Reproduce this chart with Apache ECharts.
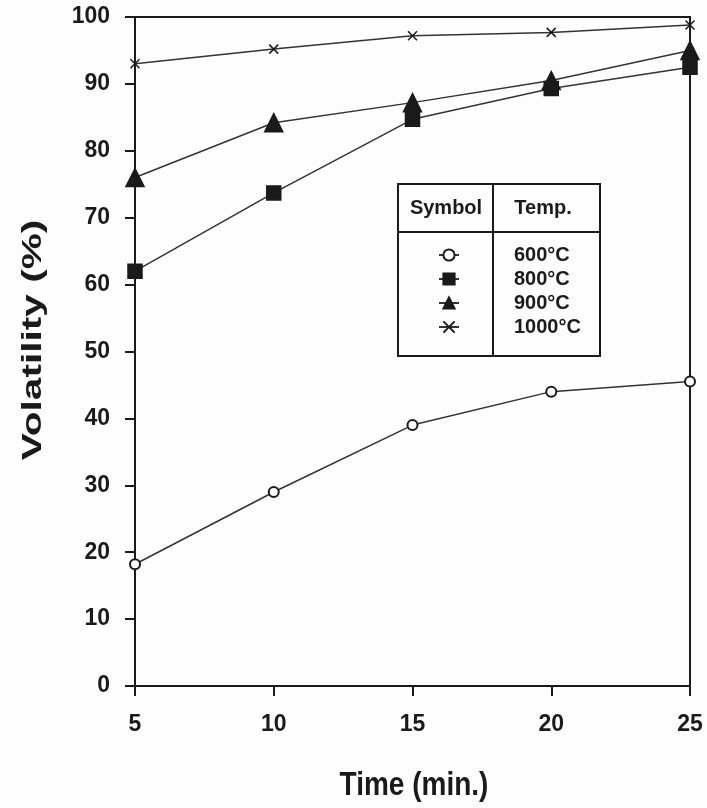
<!DOCTYPE html>
<html>
<head>
<meta charset="utf-8">
<title>Volatility vs time</title>
<script src="https://cdn.jsdelivr.net/npm/echarts@6/dist/echarts.min.js"></script>
<style>
  html, body { margin: 0; padding: 0; background: #fdfdfd; }
  #main { width: 707px; height: 808px; }
</style>
</head>
<body>
<div id="main"></div>
<script>
// data
var times = [5, 10, 15, 20, 25];
var temps = ['600°C', '800°C', '900°C', '1000°C'];
var v600 = [18.2, 29, 39, 44, 45.5];
var v800 = [62, 73.7, 84.7, 89.3, 92.5];
var v900 = [76, 84.2, 87.2, 90.5, 95];
var v1000 = [93, 95.2, 97.2, 97.7, 98.8];

var FONT = "'Liberation Sans', Arial, sans-serif";
var INK = '#1a1a1a';
var BG = '#fdfdfd';

function pairs(vals) {
  return times.map(function (t, i) { return [t, vals[i]]; });
}

function mk(name, vals, symbol, size) {
  return {
    name: name,
    type: 'line',
    data: pairs(vals),
    symbol: symbol,
    symbolSize: size,
    showAllSymbol: true,
    lineStyle: { color: '#333', width: 1.5 },
    itemStyle: { color: INK, borderColor: INK, borderWidth: 1.5 },
    emphasis: { disabled: true },
    z: 3
  };
}

var chart = echarts.init(document.getElementById('main'));
var option = {
  backgroundColor: BG,
  animation: false,
  grid: {
    left: 135, right: 17, top: 17, bottom: 122,
    show: true, borderColor: INK, borderWidth: 2, backgroundColor: 'transparent'
  },
  xAxis: {
    type: 'value', min: 5, max: 25, interval: 5,
    axisLine: { show: true, lineStyle: { color: INK, width: 2 } },
    axisTick: { show: true, length: 10, lineStyle: { color: INK, width: 2 } },
    splitLine: { show: false },
    axisLabel: { color: INK, fontFamily: FONT, fontWeight: 'bold', fontSize: 23, margin: 27 }
  },
  yAxis: {
    type: 'value', min: 0, max: 100, interval: 10,
    axisLine: { show: true, lineStyle: { color: INK, width: 2 } },
    axisTick: { show: true, length: 10, lineStyle: { color: INK, width: 2 } },
    splitLine: { show: false },
    axisLabel: { color: INK, fontFamily: FONT, fontWeight: 'bold', fontSize: 23, margin: 25 }
  },
  legend: {
    orient: 'vertical',
    left: 433, top: 240, z: 20,
    itemWidth: 20, itemHeight: 14, itemGap: 4,
    data: temps,
    textStyle: { color: INK, fontFamily: FONT, fontWeight: 'bold', fontSize: 20, padding: [0, 0, 0, 50] },
    selectedMode: false
  },
  graphic: [
    { type: 'rect', shape: { x: 398, y: 184, width: 202, height: 172 },
      style: { fill: BG, stroke: INK, lineWidth: 2 }, z: 5 },
    { type: 'line', shape: { x1: 493, y1: 184, x2: 493, y2: 356 },
      style: { stroke: INK, lineWidth: 2 }, z: 6 },
    { type: 'line', shape: { x1: 398, y1: 232, x2: 600, y2: 232 },
      style: { stroke: INK, lineWidth: 2 }, z: 6 },
    { type: 'text', x: 446, y: 208, z: 6,
      style: { text: 'Symbol', fill: INK, font: 'bold 20px ' + FONT, align: 'center', verticalAlign: 'middle' } },
    { type: 'text', x: 543, y: 208, z: 6,
      style: { text: 'Temp.', fill: INK, font: 'bold 20px ' + FONT, align: 'center', verticalAlign: 'middle' } },
    { type: 'text', x: 414, y: 786, scaleY: 1.2, z: 6,
      style: { text: 'Time (min.)', fill: INK, font: 'bold 28px ' + FONT, align: 'center', verticalAlign: 'middle' } },
    { type: 'text', x: 33, y: 340, rotation: Math.PI / 2, scaleX: 1.45, z: 6,
      style: { text: 'Volatility (%)', fill: INK, font: 'bold 28px ' + FONT, align: 'center', verticalAlign: 'middle' } }
  ],
  series: [
    mk('600°C', v600, 'emptyCircle', 10),
    mk('800°C', v800, 'rect', 14),
    mk('900°C', v900, 'triangle', 18),
    mk('1000°C', v1000, 'path://M0,0L10,10M10,0L0,10', 9)
  ]
};
chart.setOption(option);
</script>
</body>
</html>
